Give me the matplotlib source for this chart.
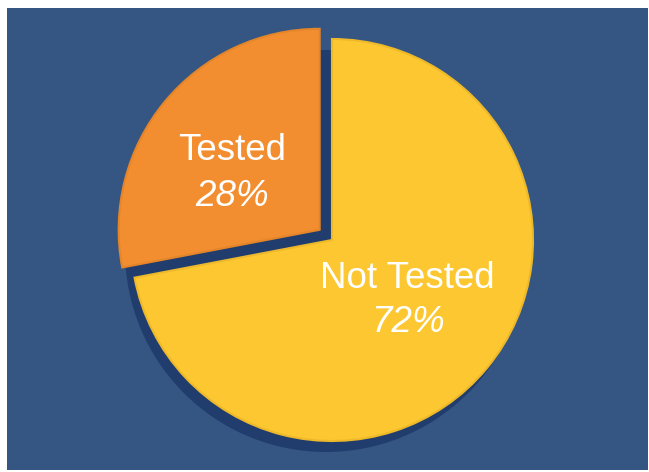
import matplotlib
matplotlib.use("Agg")
import matplotlib.pyplot as plt
from matplotlib.patches import Rectangle, Circle

# Data
categories = ["Tested", "Not Tested"]
values = [28, 72]
pct_labels = ["28%", "72%"]

colors = ["#F28E2F", "#FDC731"]
edge_colors = ["#E5852A", "#EDB92A"]
bg_color = "#355682"
shadow_color = "#213D6E"

W, H = 649, 472
fig = plt.figure(figsize=(W / 100, H / 100), dpi=100, facecolor="white")
ax = fig.add_axes([0, 0, 1, 1])

cx, cy, R = 332, 232, 201

# Background panel
ax.add_patch(Rectangle((7, 2), 641, 462, facecolor=bg_color, edgecolor="none", zorder=0))
# Drop shadow of the whole pie
ax.add_patch(Circle((cx - 6, cy - 11), R, facecolor=shadow_color, edgecolor="none", zorder=1))

# explode is in data units (pixels here)
wedges, _ = ax.pie(values, colors=colors, startangle=90, counterclock=True,
                   explode=[16, 0], center=(cx, cy), radius=R,
                   wedgeprops=dict(linewidth=1.5))
for w, ec in zip(wedges, edge_colors):
    w.set_edgecolor(ec)
    w.set_zorder(2)

ax.set_xlim(0, W)
ax.set_ylim(0, H)
ax.set_aspect("auto")
ax.axis("off")

font = "Liberation Sans"
# Tested label
ax.text(232, H - 151, categories[0], ha="center", va="center", color="white",
        fontsize=26.5, family=font, zorder=3)
ax.text(232, H - 196, pct_labels[0], ha="center", va="center", color="white",
        fontsize=26.5, family=font, style="italic", zorder=3)
# Not Tested label
ax.text(407, H - 279, categories[1], ha="center", va="center", color="white",
        fontsize=26.5, family=font, zorder=3)
ax.text(408, H - 322, pct_labels[1], ha="center", va="center", color="white",
        fontsize=26.5, family=font, style="italic", zorder=3)

fig.savefig("out.png", dpi=100, facecolor="white")
